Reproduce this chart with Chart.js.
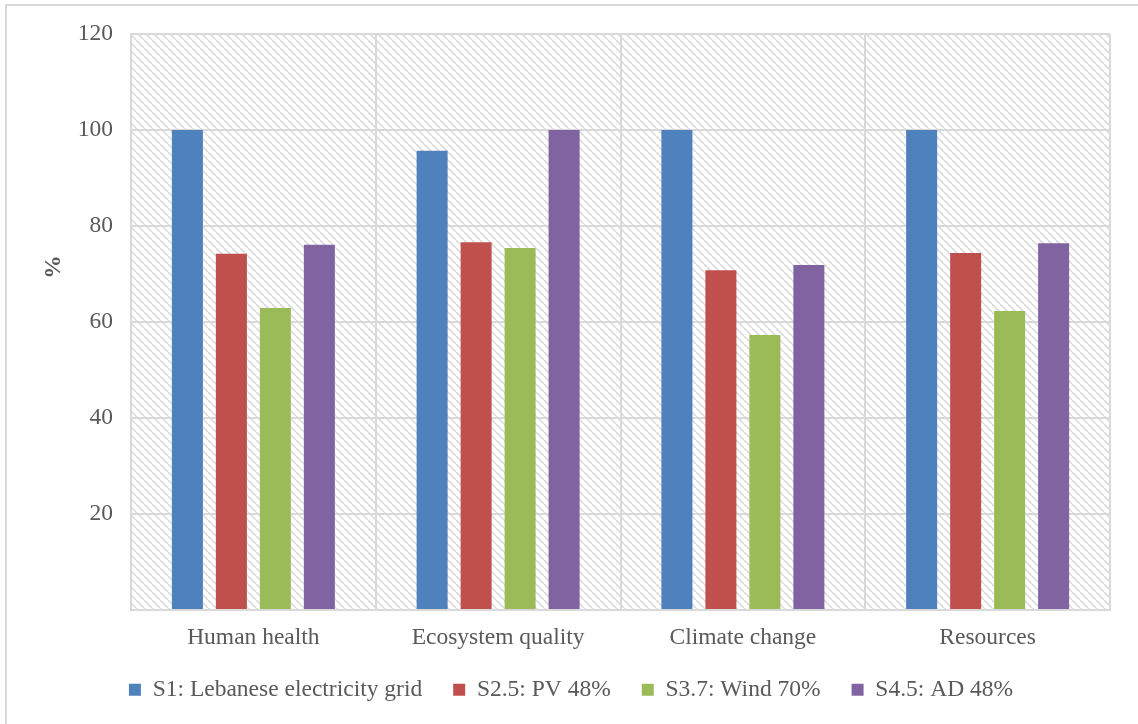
<!DOCTYPE html>
<html>
<head>
<meta charset="utf-8">
<script src="https://cdn.jsdelivr.net/npm/chart.js@4"></script>
<style>
    html, body { margin: 0; padding: 0; background: #fff; overflow: hidden; }
    #frame {
        position: absolute; left: 5px; top: 4px; width: 1150px; height: 740px;
        border: 2px solid #d9d9d9; box-sizing: border-box;
    }
    #wrap { position: absolute; left: 0; top: 0; width: 1138px; height: 724px; }
</style>
</head>
<body>
<div id="frame"></div>
<div id="wrap"><canvas id="impactChart" width="1138" height="724"></canvas></div>
<script>
// Impact categories and scenario scores (% of worst scenario)
const categories = ['Human health', 'Ecosystem quality', 'Climate change', 'Resources'];
const seriesNames = ['S1: Lebanese electricity grid', 'S2.5: PV 48%', 'S3.7: Wind 70%', 'S4.5: AD 48%'];
const s1Grid = [100, 95.7, 100, 100];
const s25Pv = [74.2, 76.6, 70.8, 74.4];
const s37Wind = [62.9, 75.4, 57.3, 62.3];
const s45Ad = [76.1, 100, 71.9, 76.4];
const yTicks = [20, 40, 60, 80, 100, 120];

const seriesColors = ['#4f81bd', '#c0504d', '#9bbb59', '#8064a2'];
const fontFamily = "'Liberation Serif', 'Times New Roman', serif";
const textColor = '#595959';

Chart.defaults.font.family = fontFamily;
Chart.defaults.font.size = 23.5;
Chart.defaults.color = textColor;

// light diagonal hatch behind the plot
function makeHatch(ctx) {
    const tile = document.createElement('canvas');
    tile.width = 8;
    tile.height = 8;
    const t = tile.getContext('2d');
    t.fillStyle = '#ffffff';
    t.fillRect(0, 0, 8, 8);
    t.strokeStyle = '#dddddd';
    t.lineWidth = 1.8;
    [-8, 0, 8].forEach(k => {
        t.beginPath();
        t.moveTo(k, 0);
        t.lineTo(k + 8, 8);
        t.stroke();
    });
    return ctx.createPattern(tile, 'repeat');
}

const hatchBackground = {
    id: 'hatchBackground',
    beforeDraw(chart) {
        const { ctx, chartArea: a } = chart;
        ctx.save();
        ctx.fillStyle = makeHatch(ctx);
        ctx.fillRect(a.left, a.top, a.right - a.left, a.bottom - a.top);
        ctx.restore();
    }
};

// nudge the legend row: a bit up towards the axis labels and right
const legendNudge = {
    id: 'legendNudge',
    afterLayout(chart) {
        const lg = chart.legend;
        if (!lg) return;
        lg.top -= 7;
        lg.bottom -= 7;
        lg.left += 16;
        lg.right += 16;
    }
};

// rotated "%" axis caption
const yCaption = {
    id: 'yCaption',
    afterDraw(chart) {
        const ctx = chart.ctx;
        ctx.save();
        ctx.translate(54, 267);
        ctx.rotate(-Math.PI / 2);
        ctx.font = 'bold 23.5px ' + fontFamily;
        ctx.fillStyle = textColor;
        ctx.textAlign = 'center';
        ctx.textBaseline = 'middle';
        ctx.fillText('%', 0, 0);
        ctx.restore();
    }
};

const seriesValues = [s1Grid, s25Pv, s37Wind, s45Ad];

new Chart(document.getElementById('impactChart'), {
    type: 'bar',
    data: {
        labels: categories,
        datasets: seriesNames.map((name, i) => ({
            label: name,
            data: seriesValues[i],
            backgroundColor: seriesColors[i],
            borderWidth: 0,
            categoryPercentage: 0.719,
            barPercentage: 0.705
        }))
    },
    options: {
        responsive: false,
        animation: false,
        layout: { padding: { left: 0, right: 28, top: 34, bottom: 5.5 } },
        plugins: {
            tooltip: { enabled: false },
            legend: {
                position: 'bottom',
                labels: {
                    boxWidth: 12,
                    boxHeight: 12,
                    padding: 31,
                    color: textColor,
                    font: { family: fontFamily, size: 23.5 }
                }
            }
        },
        scales: {
            x: {
                grid: { color: '#d9d9d9', lineWidth: 2, drawTicks: false, offset: true },
                border: { color: '#d9d9d9', width: 2 },
                ticks: {
                    color: textColor,
                    padding: 14,
                    font: { family: fontFamily, size: 23.5 }
                },
                afterFit(scale) { scale.height = 44; }
            },
            y: {
                min: 0,
                max: 120,
                grid: { color: '#d9d9d9', lineWidth: 2, drawTicks: false },
                border: { color: '#d9d9d9', width: 2 },
                afterBuildTicks(scale) {
                    scale.ticks = [0].concat(yTicks).map(v => ({ value: v }));
                },
                ticks: {
                    color: textColor,
                    padding: 18,
                    font: { family: fontFamily, size: 23.5 },
                    callback: v => (v === 0 ? '' : v)
                },
                afterFit(scale) { scale.width = 131; }
            }
        }
    },
    plugins: [hatchBackground, legendNudge, yCaption]
});
</script>
</body>
</html>
